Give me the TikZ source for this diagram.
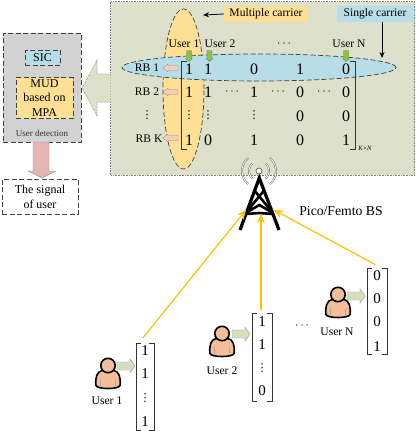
\documentclass[tikz,border=0pt]{standalone}
\usepackage{fontspec}
\setmainfont{Liberation Serif}
\newfontfamily\dotsfont{DejaVu Sans}
\usetikzlibrary{arrows.meta,shapes.geometric,shapes.arrows}
\definecolor{panel}{HTML}{DDE1CB}
\definecolor{yel}{HTML}{FEE095}
\definecolor{blu}{HTML}{B7DDE8}
\definecolor{gry}{HTML}{D2D2D2}
\definecolor{pinkbig}{HTML}{E6B5B2}
\definecolor{pinksm}{HTML}{F8CFB5}
\definecolor{grn}{HTML}{8CC04B}
\definecolor{lgrn}{HTML}{D5DFBE}
\definecolor{skin}{HTML}{F4BE9C}
\definecolor{goldline}{HTML}{FFC000}
\definecolor{dashg}{HTML}{404040}
\tikzset{
  x=1pt,y=-1pt,
  longdash/.style={dash pattern=on 5pt off 2.5pt},
  dbox/.style={draw=dashg,longdash,line width=.7pt,inner sep=0pt,align=center},
  lab/.style={font=\fontsize{11.6}{13}\selectfont,inner sep=0pt},
  num/.style={font=\fontsize{16}{16}\selectfont,inner sep=0pt},
  vnum/.style={font=\fontsize{15}{15}\selectfont,inner sep=0pt},
  vd/.style={font=\dotsfont\fontsize{11}{11}\selectfont,inner sep=0pt},
  hd/.style={font=\fontsize{13}{13}\selectfont,inner sep=0pt},
  brk/.style={draw=black!80,line width=.6pt},
  gold/.style={draw=goldline,line width=1.2pt,-{Stealth[length=9pt,width=8pt]}},
  wave/.style={draw=black!70,line width=.4pt,double=white,double distance=.9pt},
  tw/.style={draw=black,line width=3.2pt,line cap=butt},
  smallgreen/.style={fill=grn,draw=grn!70!black,line width=.3pt},
  smallpink/.style={fill=pinksm,draw=black!45,line width=.3pt},
  ugreen/.style={fill=lgrn,draw=black!40,line width=.4pt},
  person/.pic={
    \draw[fill=skin,line width=1.6pt] (-12,20) .. controls (-13,12) and (-11,6) .. (-6,5) -- (6,5) .. controls (11,6) and (13,12) .. (12,20) .. controls (11,24) and (-11,24) .. (-12,20) -- cycle;
    \draw[black!45,line width=.4pt] (-8,13) -- (-7,22) (8,13) -- (7,22);
    \draw[fill=skin,line width=1.6pt] (0,0) circle[radius=7.2];
  }
}
\newcommand{\smalldown}[2]{\path[smallgreen] (#1-2.5,#2) -- (#1+2.5,#2) -- (#1+2.5,#2+8) -- (#1+3.5,#2+8) -- (#1,#2+11) -- (#1-3.5,#2+8) -- (#1-2.5,#2+8) -- cycle;}
\newcommand{\smallleft}[1]{\path[smallpink] (178,#1-2.5) -- (168,#1-2.5) -- (168,#1-4) -- (163,#1) -- (168,#1+4) -- (168,#1+2.5) -- (178,#1+2.5) -- cycle;}
\newcommand{\rightarr}[2]{\path[ugreen] (#1,#2-4) -- (#1+13,#2-4) -- (#1+13,#2-7) -- (#1+18,#2) -- (#1+13,#2+7) -- (#1+13,#2+4) -- (#1,#2+4) -- cycle;}
\newcommand{\vecbr}[4]{\draw[brk] (#1+5,#3) -- (#1,#3) -- (#1,#4) -- (#1+5,#4) (#2-5,#3) -- (#2,#3) -- (#2,#4) -- (#2-5,#4);}
\begin{document}
\begin{tikzpicture}
\useasboundingbox (0,0) rectangle (415,431);
% panel
\path[fill=panel,draw=black!50,densely dotted,line width=.6pt] (110.5,1.5) rectangle (414.5,175);
% big arrow
\path[fill=panel,draw=black!50,densely dotted,line width=.6pt] (110.5,74) -- (97,74) -- (97,60) -- (82,88) -- (97,116) -- (97,102) -- (110.5,102);
% ellipses
\node[ellipse,fill=yel,draw=dashg,longdash,line width=.7pt,minimum width=41pt,minimum height=160pt,inner sep=0pt] (ey) at (183.5,89) {};
\node[ellipse,fill=blu,draw=dashg,longdash,line width=.7pt,minimum width=274pt,minimum height=27pt,inner sep=0pt] (eb) at (259,67.5) {};
% labels boxes
\node[fill=yel,minimum width=84pt,minimum height=16pt,inner sep=0pt,lab] (mc) at (266,14) {Multiple carrier};
\node[fill=blu,minimum width=76pt,minimum height=16pt,inner sep=0pt,lab] (sc) at (375,14) {Single carrier};
\coordinate (mct) at (203,15);
\coordinate (sct) at (382,58);
\draw[line width=.8pt,-{Stealth[length=6pt,width=5pt]}] (mc.west) -- (mct);
\draw[line width=.8pt,-{Stealth[length=6pt,width=5pt]}] (sc.south -| sct) -- (sct);
% user headers
\node[lab] (u1) at (184,44) {User 1};
\node[lab] (u2) at (220,44) {User 2};
\node[hd] (ud) at (284,44) {$\cdots$};
\node[lab] (un) at (349,44) {User N};
\smalldown{189}{50.5}\smalldown{209.5}{50.5}\smalldown{346}{50.5}
% RB labels
\node[lab] (rb1) at (147,68) {RB 1};
\node[lab] (rb2) at (147,92) {RB 2};
\node[vd] (rbd) at (147,115) {⋮};
\node[lab] (rbk) at (149,139) {RB K};
\smallleft{68}\smallleft{92}\smallleft{138}
% matrix brackets
\draw[brk,line width=.7pt] (187,61) -- (181,61) -- (181,149.5) -- (187,149.5);
\draw[brk,line width=.7pt] (350,61) -- (355,61) -- (355,149.5) -- (350,149.5);
\node[font=\fontsize{6.5}{7}\selectfont\itshape,inner sep=0pt] (kn) at (365,148) {K×N};
% matrix
\foreach \n/\x/\y/\t in {a/189/69/1,b/208/69/1,c/254/69/0,d/300/69/1,e/346/69/0,
  f/189/92/1,g/208/92/1,h/254/92/1,i/300/92/0,j/346/92/0,
  k/300/116/0,l/346/116/0,
  m/189/140/1,n/208/140/0,o/254/140/1,p/300/140/0,q/346/140/1}
  \node[num] (m\n) at (\x,\y) {\t};
\foreach \n/\x in {r/232,s/278,t/324}
  \node[hd] (m\n) at (\x,92) {$\cdots$};
\foreach \n/\x in {u/189,v/208,w/254}
  \node[vd] (m\n) at (\x,115) {⋮};
% detection box
\node[dbox,fill=gry,minimum width=78pt,minimum height=109pt] (det) at (42,87.5) {};
\node[dbox,fill=blu,minimum width=35pt,minimum height=15pt,font=\fontsize{12}{13}\selectfont] (sic) at (42.5,57.5) {SIC};
\node[dbox,fill=yel,minimum width=57pt,minimum height=41pt,font=\fontsize{12}{14.5}\selectfont] (mud) at (44.5,98) {MUD\\based on\\MPA};
\node[font=\fontsize{9}{10}\selectfont,inner sep=0pt,text=black!80] (udt) at (42,133) {User detection};
% pink arrow
\path[fill=pinkbig,draw=black!45,line width=.4pt] (33,142) -- (49,142) -- (49,171) -- (56,171) -- (42,178) -- (28,171) -- (33,171) -- cycle;
\node[dbox,fill=white,minimum width=76pt,minimum height=35pt,font=\fontsize{12}{15}\selectfont] (sig) at (40,196.5) {The signal\\of user};
% tower
\draw[tw,line join=miter] (240,230) -- (259.3,178) -- (279,230);
\draw[tw,line width=2.6pt] (254,190) -- (273,213) (264.5,190) -- (245.5,213) (245.5,213) -- (259.3,205) -- (273,213) (246,214) -- (259.3,213) -- (273,214);
\node[circle,draw=black!70,line width=.6pt,fill=white,minimum size=6pt,inner sep=0pt] (ant) at (259,171) {};
\foreach \r in {10,17}{
  \draw[wave] ([shift={(130:\r)}]259,171) arc[start angle=130,end angle=230,radius=\r];
  \draw[wave] ([shift={(-50:\r)}]259,171) arc[start angle=-50,end angle=50,radius=\r];
}
\node[inner sep=0pt,font=\fontsize{13.7}{15}\selectfont] (bs) at (341,211) {Pico/Femto BS};
\coordinate (t1) at (246,210);
\coordinate (t2) at (261,214);
\coordinate (t3) at (274,210);
% users
\pic at (108,365.5) {person};
\pic at (222,333.5) {person};
\pic at (338,294.5) {person};
\node[lab] (l1) at (107,401) {User 1};
\node[lab] (l2) at (222,371) {User 2};
\node[lab] (l3) at (337,332) {User N};
\rightarr{117}{366}\rightarr{232}{334}\rightarr{347}{296}
\node[hd] (dd) at (302,326) {$\cdots$};
% vectors
\vecbr{136}{154}{343}{430}
\vecbr{252}{272}{313}{401}
\vecbr{367}{387}{268}{354}
\node[inner sep=0pt] (v1) at (142,339) {};
\node[inner sep=0pt] (v2) at (261,311) {};
\node[inner sep=0pt] (v3) at (376,265) {};
\foreach \n/\x/\y/\t in {a/145/351/1,b/145/374/1,d/145/422/1,
  e/262/322/1,f/262/345/1,h/262/391/0,
  i/377/276/0,j/377/299/0,k/377/322/0,l/377/347/1}
  \node[vnum] (v\n) at (\x,\y) {\t};
\node[vd] (vc) at (145,398) {⋮};
\node[vd] (vg) at (262,368) {⋮};
\draw[gold] (v1) -- (t1);
\draw[gold] (v2) -- (t2);
\draw[gold] (v3) -- (t3);
\end{tikzpicture}
\end{document}
